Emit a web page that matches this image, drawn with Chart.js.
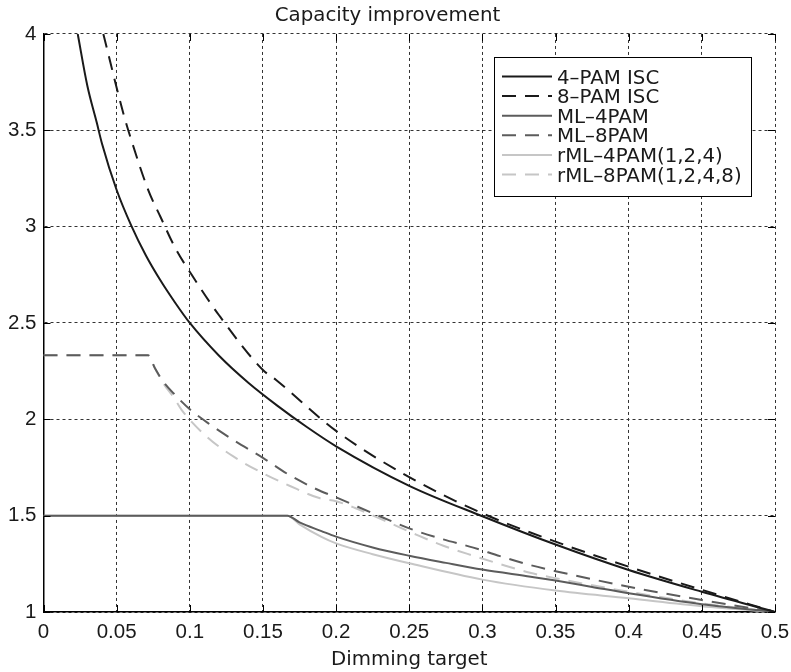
<!DOCTYPE html>
<html>
<head>
<meta charset="utf-8">
<script src="https://cdn.jsdelivr.net/npm/chart.js@4"></script>
<style>
  html, body { margin: 0; padding: 0; background: #fff; }
  #wrap { width: 791px; height: 672px; }
</style>
</head>
<body>
<div id="wrap"><canvas id="capChart"></canvas></div>
<script>
// valores
const xTickLabels = ['0', '0.05', '0.1', '0.15', '0.2', '0.25', '0.3', '0.35', '0.4', '0.45', '0.5'];
const yTickLabels = ['1', '1.5', '2', '2.5', '3', '3.5', '4'];

const isc4X = [0.0234, 0.03, 0.0364, 0.04, 0.05, 0.06, 0.07, 0.08, 0.09, 0.1, 0.12, 0.14, 0.16, 0.18, 0.2, 0.25, 0.3, 0.35, 0.4, 0.45, 0.5];
const isc4Y = [4.0, 3.73, 3.54, 3.43, 3.19, 3.005, 2.85, 2.72, 2.605, 2.5, 2.33, 2.19, 2.07, 1.96, 1.86, 1.655, 1.497, 1.35, 1.218, 1.105, 1.0];

const isc8X = [0.0409, 0.0545, 0.06, 0.0716, 0.08, 0.09, 0.1013, 0.12, 0.15, 0.159, 0.2, 0.25, 0.3, 0.35, 0.4, 0.45, 0.5];
const isc8Y = [4.0, 3.59, 3.45, 3.19, 3.05, 2.89, 2.75, 2.54, 2.256, 2.204, 1.94, 1.70, 1.512, 1.365, 1.235, 1.115, 1.0];

const ml4X = [0, 0.1667, 0.175, 0.19, 0.2, 0.225, 0.25, 0.275, 0.3, 0.333, 0.35, 0.375, 0.4, 0.45, 0.5];
const ml4Y = [1.5, 1.5, 1.465, 1.42, 1.391, 1.335, 1.292, 1.255, 1.22, 1.183, 1.163, 1.13, 1.097, 1.04, 1.0];

const ml8X = [0, 0.0714, 0.0762, 0.0819, 0.09, 0.1, 0.1127, 0.131, 0.15, 0.1667, 0.1867, 0.2, 0.2323, 0.2528, 0.2733, 0.2938, 0.312, 0.3325, 0.35, 0.4, 0.45, 0.5];
const ml8Y = [2.333, 2.333, 2.265, 2.195, 2.126, 2.052, 1.979, 1.887, 1.80, 1.717, 1.637, 1.595, 1.489, 1.426, 1.377, 1.334, 1.29, 1.244, 1.212, 1.131, 1.062, 1.0];

const rml4X = [0, 0.1667, 0.175, 0.19, 0.2, 0.225, 0.25, 0.3, 0.35, 0.4, 0.45, 0.5];
const rml4Y = [1.5, 1.5, 1.455, 1.39, 1.356, 1.3, 1.253, 1.168, 1.111, 1.071, 1.03, 1.0];

const rml8X = [0, 0.0714, 0.0765, 0.0825, 0.0887, 0.0945, 0.1116, 0.13, 0.15, 0.1685, 0.189, 0.2, 0.213, 0.2323, 0.2528, 0.2733, 0.2938, 0.312, 0.3325, 0.35, 0.4, 0.45, 0.5];
const rml8Y = [2.333, 2.333, 2.26, 2.18, 2.117, 2.048, 1.91, 1.806, 1.72, 1.654, 1.59, 1.575, 1.54, 1.477, 1.408, 1.344, 1.292, 1.249, 1.204, 1.175, 1.105, 1.045, 1.0];

const seriesNames = ['4\u2013PAM ISC', '8\u2013PAM ISC', 'ML\u20134PAM', 'ML\u20138PAM', 'rML\u20134PAM(1,2,4)', 'rML\u20138PAM(1,2,4,8)'];

function pontos(xs, ys) {
    return xs.map((x, i) => ({ x: x, y: ys[i] }));
}

const preto = '#1a1a1a';
const cinzaEscuro = '#5c5c5c';
const cinzaClaro = '#c6c6c6';
const tracejado = [14, 9];

function serie(nome, xs, ys, cor, dash) {
    return {
        label: nome,
        data: pontos(xs, ys),
        borderColor: cor,
        backgroundColor: cor,
        borderWidth: 2,
        borderDash: dash,
        pointRadius: 0,
        fill: false,
        cubicInterpolationMode: 'monotone'
    };
}

// legenda dentro do gráfico + marcas dos ticks para dentro
const extras = {
    id: 'extras',
    afterDraw(chart) {
        const c = chart.ctx;
        const a = chart.chartArea;
        const sx = chart.scales.x, sy = chart.scales.y;

        c.save();
        c.strokeStyle = '#000';
        c.lineWidth = 1;
        c.setLineDash([]);
        sx.ticks.forEach(t => {
            const px = Math.round(sx.getPixelForValue(t.value)) + 0.5;
            c.beginPath();
            c.moveTo(px, a.bottom); c.lineTo(px, a.bottom - 7);
            c.moveTo(px, a.top); c.lineTo(px, a.top + 7);
            c.stroke();
        });
        sy.ticks.forEach(t => {
            const py = Math.round(sy.getPixelForValue(t.value)) + 0.5;
            c.beginPath();
            c.moveTo(a.left, py); c.lineTo(a.left + 7, py);
            c.moveTo(a.right, py); c.lineTo(a.right - 7, py);
            c.stroke();
        });

        const left = 494.5, top = 57.5, right = 751.5, bottom = 196.5;
        c.fillStyle = '#fff';
        c.fillRect(left, top, right - left, bottom - top);
        c.strokeStyle = '#000';
        c.lineWidth = 1;
        c.strokeRect(left, top, right - left, bottom - top);

        c.font = '19.8px "DejaVu Sans", sans-serif';
        c.textBaseline = 'middle';
        c.textAlign = 'left';
        chart.data.datasets.forEach((ds, i) => {
            const yy = 78.5 + i * 19.6;
            c.strokeStyle = ds.borderColor;
            c.lineWidth = 2;
            c.setLineDash(ds.borderDash || []);
            c.beginPath();
            c.moveTo(502, yy - 2);
            c.lineTo(552, yy - 2);
            c.stroke();
            c.setLineDash([]);
            c.fillStyle = '#1a1a1a';
            c.fillText(ds.label, 557, yy);
        });
        c.restore();
    }
};

const ctx = document.getElementById('capChart');

var grafico = new Chart(ctx, {
    type: 'line',
    data: {
        datasets: [
            serie(seriesNames[0], isc4X, isc4Y, preto, []),
            serie(seriesNames[1], isc8X, isc8Y, preto, tracejado),
            serie(seriesNames[2], ml4X, ml4Y, cinzaEscuro, []),
            serie(seriesNames[3], ml8X, ml8Y, cinzaEscuro, tracejado),
            serie(seriesNames[4], rml4X, rml4Y, cinzaClaro, []),
            serie(seriesNames[5], rml8X, rml8Y, cinzaClaro, tracejado)
        ]
    },
    options: {
        responsive: true,
        maintainAspectRatio: false,
        animation: false,
        layout: { padding: { left: 0, right: 16, top: 0, bottom: 0 } },
        plugins: {
            legend: { display: false },
            tooltip: { enabled: false },
            title: {
                display: true,
                text: 'Capacity improvement',
                color: '#1a1a1a',
                font: { family: '"DejaVu Sans", sans-serif', size: 19.8, weight: 'normal', lineHeight: 1.2 },
                padding: { top: 4, bottom: 6.2 }
            }
        },
        scales: {
            x: {
                type: 'linear',
                min: 0,
                max: 0.5,
                afterFit: s => { s.height = 60; s.paddingRight = 0; s.paddingLeft = 0; },
                ticks: {
                    stepSize: 0.05,
                    padding: 8,
                    color: '#1a1a1a',
                    font: { family: '"Liberation Sans", Arial, sans-serif', size: 20.5 },
                    maxRotation: 0,
                    callback: (v, i) => xTickLabels[i]
                },
                grid: { color: '#333', lineWidth: 1, drawTicks: false, borderDash: [3, 3] },
                border: { display: true, color: '#000', width: 1.5, dash: [3, 3] },
                title: {
                    display: true,
                    text: 'Dimming target',
                    color: '#1a1a1a',
                    font: { family: '"DejaVu Sans", sans-serif', size: 19.8, lineHeight: 1.2 },
                    padding: { top: 0, bottom: 0 }
                }
            },
            y: {
                type: 'linear',
                min: 1,
                max: 4,
                afterFit: s => { s.width = 43.5; s.paddingTop = 0; s.paddingBottom = 0; },
                ticks: {
                    stepSize: 0.5,
                    padding: 7,
                    color: '#1a1a1a',
                    font: { family: '"Liberation Sans", Arial, sans-serif', size: 20.5 },
                    callback: (v, i) => yTickLabels[i]
                },
                grid: { color: '#333', lineWidth: 1, drawTicks: false, borderDash: [3, 3] },
                border: { display: true, color: '#000', width: 1.5, dash: [3, 3] }
            }
        }
    },
    plugins: [extras]
});
</script>
</body>
</html>
